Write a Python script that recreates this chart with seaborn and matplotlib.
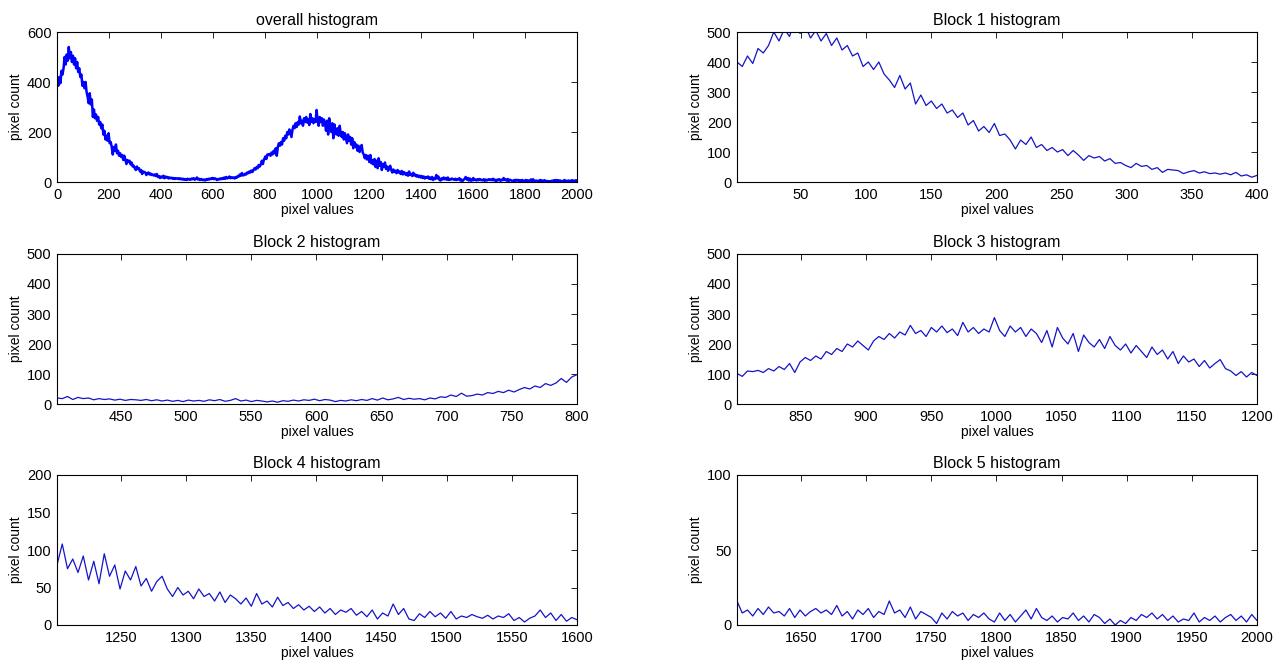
import numpy as np
import matplotlib
matplotlib.use("Agg")
import matplotlib.pyplot as plt
import seaborn as sns

block1_counts = [400, 385, 420, 395, 445, 430, 455, 500, 470, 510,
                 485, 540, 495, 520, 480, 505, 470, 495, 455, 480,
                 440, 455, 420, 430, 385, 400, 375, 400, 360, 340,
                 315, 355, 310, 330, 260, 290, 255, 270, 245, 260,
                 230, 240, 215, 230, 190, 205, 170, 185, 165, 195,
                 155, 160, 140, 110, 140, 125, 150, 115, 125, 105,
                 115, 100, 108, 88, 105, 90, 72, 88, 80, 85,
                 70, 78, 62, 65, 55, 48, 62, 52, 55, 42,
                 48, 32, 42, 40, 38, 28, 34, 38, 30, 34,
                 28, 30, 26, 30, 24, 32, 20, 24, 16, 22]
block2_counts = [20, 18, 25, 15, 22, 18, 20, 14, 18, 15,
                 17, 13, 16, 12, 15, 14, 12, 15, 11, 14,
                 10, 13, 9, 12, 8, 13, 10, 12, 9, 14,
                 11, 15, 9, 12, 18, 10, 13, 8, 12, 10,
                 7, 10, 6, 11, 9, 13, 10, 14, 12, 16,
                 11, 15, 13, 8, 12, 10, 14, 11, 15, 12,
                 18, 13, 20, 14, 17, 22, 15, 19, 16, 18,
                 14, 20, 17, 24, 22, 30, 25, 36, 26, 28,
                 33, 30, 38, 35, 42, 38, 46, 40, 48, 55,
                 50, 60, 55, 68, 62, 70, 85, 72, 90, 98]
block3_counts = [102, 92, 110, 108, 112, 105, 118, 110, 125, 115,
                 135, 105, 140, 155, 145, 160, 150, 175, 165, 185,
                 175, 200, 190, 210, 195, 180, 210, 225, 215, 235,
                 220, 240, 230, 262, 235, 245, 225, 255, 240, 260,
                 238, 250, 228, 272, 240, 255, 235, 250, 240, 288,
                 245, 225, 260, 240, 255, 225, 250, 235, 205, 245,
                 190, 255, 220, 200, 235, 175, 230, 205, 190, 215,
                 185, 225, 195, 180, 200, 170, 195, 175, 155, 190,
                 165, 180, 150, 175, 135, 160, 140, 150, 125, 145,
                 120, 135, 148, 118, 110, 95, 108, 90, 105, 95]
block4_counts = [80, 108, 75, 88, 70, 92, 60, 85, 55, 95,
                 65, 80, 48, 72, 60, 78, 52, 62, 45, 58,
                 65, 48, 38, 50, 40, 45, 35, 48, 38, 42,
                 32, 44, 30, 40, 35, 28, 36, 25, 42, 28,
                 32, 24, 37, 26, 30, 22, 27, 20, 25, 18,
                 24, 16, 22, 14, 20, 17, 22, 13, 18, 11,
                 20, 8, 16, 12, 28, 14, 22, 8, 6, 15,
                 10, 18, 11, 16, 9, 18, 8, 12, 10, 14,
                 11, 9, 13, 8, 12, 10, 15, 6, 10, 4,
                 9, 12, 20, 10, 16, 6, 14, 5, 10, 7]
block5_counts = [16, 8, 10, 6, 11, 7, 12, 8, 9, 6,
                 11, 5, 10, 6, 9, 11, 8, 10, 7, 13,
                 6, 9, 4, 10, 7, 11, 5, 9, 7, 16,
                 8, 10, 5, 12, 4, 9, 7, 5, 1, 8,
                 4, 9, 6, 8, 3, 7, 5, 8, 4, 2,
                 8, 3, 7, 2, 6, 10, 4, 11, 5, 3,
                 6, 2, 5, 4, 8, 3, 6, 2, 7, 5,
                 1, 4, 0, 3, 1, 5, 3, 7, 5, 8,
                 4, 7, 3, 6, 2, 4, 3, 8, 2, 5,
                 3, 6, 2, 5, 7, 3, 6, 2, 7, 3]

block_ranges = [(1, 400), (401, 800), (801, 1200), (1201, 1600), (1601, 2000)]
block_ylims = [500, 500, 500, 200, 100]
block_titles = ["Block 1 histogram", "Block 2 histogram", "Block 3 histogram",
                "Block 4 histogram", "Block 5 histogram"]
block_xticks = [[50, 100, 150, 200, 250, 300, 350, 400],
                [450, 500, 550, 600, 650, 700, 750, 800],
                [850, 900, 950, 1000, 1050, 1100, 1150, 1200],
                [1250, 1300, 1350, 1400, 1450, 1500, 1550, 1600],
                [1650, 1700, 1750, 1800, 1850, 1900, 1950, 2000]]
block_yticks = [[0, 100, 200, 300, 400, 500]] * 3 + [[0, 50, 100, 150, 200], [0, 50, 100]]
overall_xticks = list(range(0, 2001, 200))
overall_yticks = [0, 200, 400, 600]

all_counts = [block1_counts, block2_counts, block3_counts, block4_counts, block5_counts]

# ---- style ----
sns.set_theme(style="white")
plt.rcParams['font.family'] = ['Liberation Sans', 'DejaVu Sans']
plt.rcParams['xtick.direction'] = 'in'
plt.rcParams['ytick.direction'] = 'in'

W, H = 1284, 668
fig = plt.figure(figsize=(W / 100, H / 100), dpi=100)
fig.patch.set_facecolor('white')

def px_axes(l, t, r, b):
    return fig.add_axes([l / W, 1 - b / H, (r - l) / W, (b - t) / H])

OVERALL_LINE = '#0000ff'
BLOCK_LINE = '#1414c8'

def style_axes(ax, title):
    for s in ax.spines.values():
        s.set_visible(True)
        s.set_color('black')
        s.set_linewidth(0.8)
    ax.tick_params(axis='both', which='both', direction='in', length=4, width=0.6,
                   top=True, right=True, labelsize=10.5, colors='black', pad=4)
    ax.set_title(title, fontsize=11.5, pad=5, color='black')
    ax.set_xlabel("pixel values", fontsize=10, labelpad=1, color='black')
    ax.set_ylabel("pixel count", fontsize=10, labelpad=3, color='black')
    ax.grid(False)

# positions: (left, top, right, bottom) in pixels
pos = {
    'overall': (57, 32, 577, 182),
    1: (737, 32, 1257, 182),
    2: (57, 254, 577, 404),
    3: (737, 254, 1257, 404),
    4: (57, 475, 577, 625),
    5: (737, 475, 1257, 625),
}

# overall histogram
xs_all = []
ys_all = []
for (a, b), c in zip(block_ranges, all_counts):
    xs_all.append(np.linspace(a, b, len(c)))
    ys_all.append(np.array(c, dtype=float))
x_all = np.concatenate(xs_all)
y_all = np.concatenate(ys_all)

ax = px_axes(*pos['overall'])
sns.lineplot(x=x_all, y=y_all, ax=ax, color=OVERALL_LINE, linewidth=1.8,
             estimator=None, sort=False)
ax.set_xlim(0, 2000)
ax.set_ylim(0, 600)
ax.set_xticks(overall_xticks)
ax.set_yticks(overall_yticks)
style_axes(ax, "overall histogram")

for i in range(5):
    ax = px_axes(*pos[i + 1])
    a, b = block_ranges[i]
    xv = np.linspace(a, b, len(all_counts[i]))
    sns.lineplot(x=xv, y=np.array(all_counts[i], dtype=float), ax=ax, color=BLOCK_LINE,
                 linewidth=0.9, estimator=None, sort=False)
    ax.set_xlim(a, b)
    ax.set_ylim(0, block_ylims[i])
    ax.set_xticks(block_xticks[i])
    ax.set_yticks(block_yticks[i])
    style_axes(ax, block_titles[i])

fig.savefig("out.png", dpi=100, facecolor='white')
